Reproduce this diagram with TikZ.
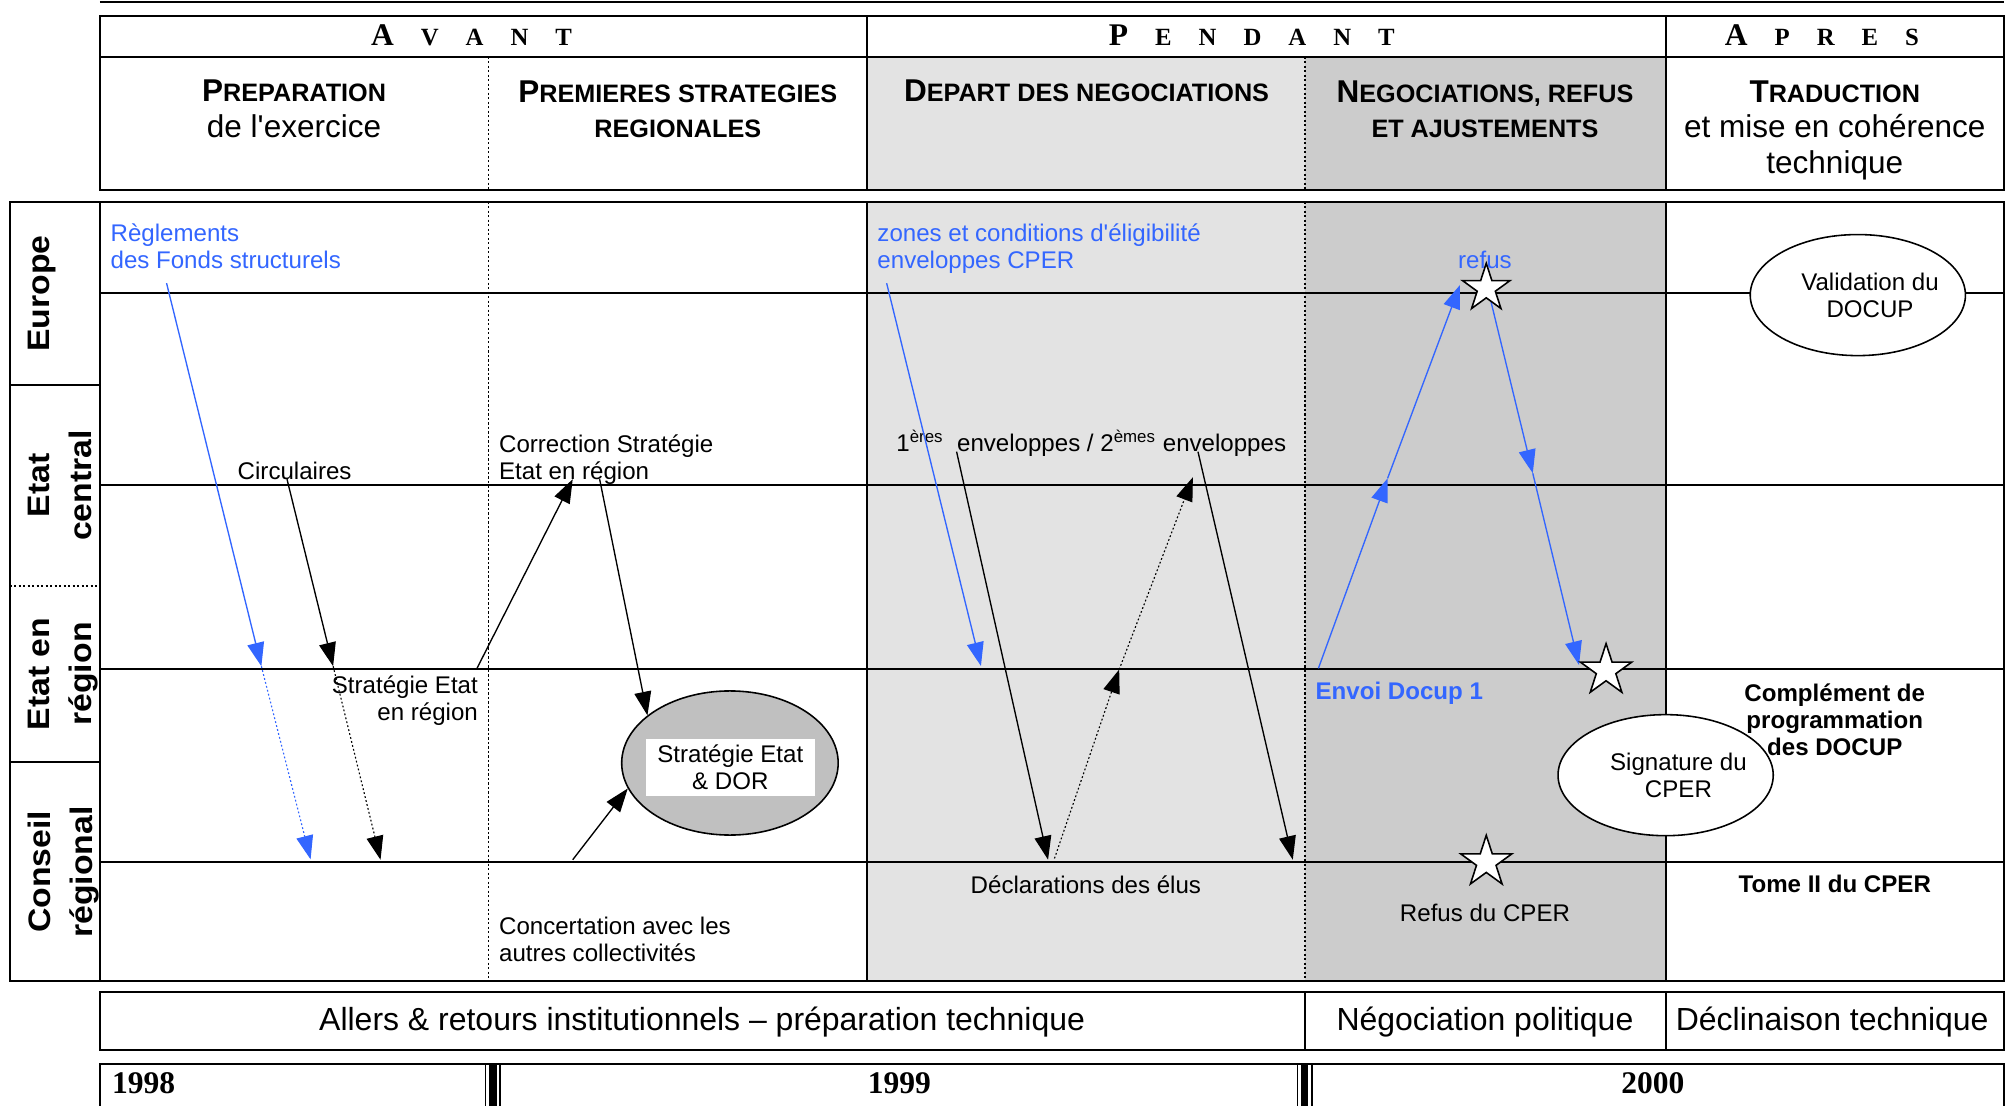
\documentclass[tikz,border=0pt]{standalone}
\usepackage{fontspec}
\setmainfont{Liberation Sans}
\newfontfamily\timesfont{Liberation Serif}
\usepackage{tikz}
\usetikzlibrary{shapes.geometric, arrows.meta, positioning, calc}
\newcommand{\corps}{\fontsize{10.7}{12}\selectfont}
\newcommand{\titre}{\fontsize{11.2}{15.8}\selectfont\bfseries}
\newcommand{\grand}{\fontsize{14}{15.8}\selectfont}
\newcommand{\initiale}[1]{{\grand #1}}
\newcommand{\espace}{\hspace{12pt}}
\tikzstyle{grille} = [line width=0.9pt]
\tikzstyle{pointille} = [line width=0.5pt, dash pattern=on 1pt off 1pt]
\tikzstyle{texte} = [inner sep=0pt, font=\corps]
\tikzstyle{texteb} = [texte, text=bleu]
\tikzstyle{entete} = [inner sep=0pt, anchor=base, align=center, font=\titre]
\tikzstyle{phasetxt} = [inner sep=0pt, anchor=base, font=\timesfont\bfseries\fontsize{11}{14}\selectfont]
\tikzstyle{basetxt} = [inner sep=0pt, anchor=base, font=\fontsize{14.2}{16}\selectfont]
\tikzstyle{annee} = [inner sep=0pt, anchor=base, font=\timesfont\bfseries\fontsize{14}{14}\selectfont]
\tikzstyle{acteur} = [inner sep=0pt, rotate=90, yscale=0.92, align=center, font=\fontsize{15}{20.2}\selectfont\bfseries]
\tikzstyle{bulle} = [ellipse, draw, line width=0.7pt, fill=white, inner sep=0pt, minimum width=3.36cm, minimum height=1.89cm]
\tikzstyle{etoile} = [star, star points=5, star point ratio=2.618, draw, fill=white, line width=0.7pt, inner sep=0pt, minimum size=0.84cm]
\tikzstyle{arrow} = [line width=0.6pt, -{Triangle[length=10.5pt,width=7.5pt]}]
\tikzstyle{arrowbleu} = [arrow, bleu]
\tikzstyle{tirets} = [line width=0.5pt, dash pattern=on 0.8pt off 1pt]
\usepackage{xcolor}
\definecolor{bleu}{HTML}{3366FF}
\definecolor{grisclair}{HTML}{E3E3E3}
\definecolor{grisfonce}{HTML}{CCCCCC}
\definecolor{grisbulle}{HTML}{C0C0C0}

\begin{document}
\begin{tikzpicture}[x=0.02cm, y=-0.02cm]
    \useasboundingbox (0,0) rectangle (1568,863);

    \fill [grisclair] (677,44.2) rectangle (1018.5,148.3);
    \fill [grisfonce] (1018.5,44.2) rectangle (1300,148.3);
    \fill [grisclair] (677,157.4) rectangle (1018.5,765.6);
    \fill [grisfonce] (1018.5,157.4) rectangle (1300,765.6);

    \draw [grille] (78,1.5) -- (1564,1.5);
    \draw [grille] (78,12.2) rectangle (1564,148.3);
    \draw [grille] (78,44.2) -- (1564,44.2);
    \draw [grille] (677,12.2) -- (677,148.3);
    \draw [grille] (1300,12.2) -- (1300,148.3);
    \draw [pointille] (381,44.2) -- (381,148.3);
    \draw [pointille] (1018.5,44.2) -- (1018.5,148.3);

    \draw [grille] (7.5,157.4) rectangle (1564,765.6);
    \draw [grille] (78,157.4) -- (78,765.6);
    \draw [grille] (7.5,300.5) -- (78,300.5);
    \draw [pointille] (7.5,457.4) -- (78,457.4);
    \draw [grille] (7.5,594.5) -- (78,594.5);
    \draw [grille] (78,229) -- (1564,229);
    \draw [grille] (78,378.5) -- (1564,378.5);
    \draw [grille] (78,522.4) -- (1564,522.4);
    \draw [grille] (78,673) -- (1564,673);
    \draw [pointille] (381,157.4) -- (381,765.6);
    \draw [grille] (677,157.4) -- (677,765.6);
    \draw [pointille] (1018.5,157.4) -- (1018.5,765.6);
    \draw [grille] (1300,157.4) -- (1300,765.6);

    \draw [grille] (78,774.5) rectangle (1564,819.5);
    \draw [grille] (1018.5,774.5) -- (1018.5,819.5);
    \draw [grille] (1300,774.5) -- (1300,819.5);
    \draw [grille] (78,870) -- (78,830.4) -- (1564,830.4) -- (1564,870);
    \draw [line width=0.6pt] (379,830.4) -- (379,870) (390.2,830.4) -- (390.2,870);
    \draw [line width=0.6pt] (1012.8,830.4) -- (1012.8,870) (1024,830.4) -- (1024,870);
    \draw [line width=3.3pt] (384.7,830.4) -- (384.7,870) (1018.3,830.4) -- (1018.3,870);

    \node (avant) [phasetxt] at (368,35.7) {{\fontsize{14}{14}\selectfont A}\espace V\espace A\espace N\espace T};
    \node (pendant) [phasetxt] at (977,35.7) {{\fontsize{14}{14}\selectfont P}\espace E\espace N\espace D\espace A\espace N\espace T};
    \node (apres) [phasetxt] at (1422,35.7) {{\fontsize{14}{14}\selectfont A}\espace P\espace R\espace E\espace S};

    \node (preparation) [entete] at (229.5,107.2) {\initiale{P}REPARATION\\{\grand\mdseries de l\textquotesingle exercice}};
    \node (premieres) [entete] at (529,107.4) {\initiale{P}REMIERES STRATEGIES\\REGIONALES};
    \node (depart) [entete] at (848,79.4) {\initiale{D}EPART DES NEGOCIATIONS};
    \node (negociations) [entete] at (1159,107.4) {\initiale{N}EGOCIATIONS, REFUS\\ET AJUSTEMENTS};
    \node (traduction) [entete] at (1432,135.3) {\initiale{T}RADUCTION\\{\grand\mdseries et mise en cohérence}\\{\grand\mdseries technique}};

    \node (europe) [acteur] at (33,229) {Europe};
    \node (etatcentral) [acteur] at (46.9,379) {Etat\\central};
    \node (etatregion) [acteur] at (49.4,526) {Etat en\\région};
    \node (conseil) [acteur] at (49.4,680.5) {Conseil\\régional};

    \node (reglements) [texteb, anchor=base west, align=left] at (86,209.4) {Règlements\\des Fonds structurels};
    \node (zones) [texteb, anchor=base west, align=left] at (684.5,209.4) {zones et conditions d\textquotesingle éligibilité\\enveloppes CPER};
    \node (refus) [texteb, anchor=base] at (1159,209.3) {refus};
    \node (circulaires) [texte, anchor=base west] at (185.2,374.1) {Circulaires};
    \node (correction) [texte, anchor=base west, align=left] at (389.2,374.1) {Correction Stratégie\\Etat en région};
    \node (stratregion) [texte, anchor=base east, align=right] at (373.3,562.5) {Stratégie Etat\\en région};
    \node (concertation) [texte, anchor=base west, align=left] at (389.2,750.5) {Concertation avec les\\autres collectivités};
    \node (enveloppes) [texte, anchor=base west] at (699.3,352.5) {1\textsuperscript{ères}\ \ enveloppes / 2\textsuperscript{èmes} enveloppes};
    \node (declarations) [texte, anchor=base] at (847.5,697.2) {Déclarations des élus};
    \node (envoi) [texteb, anchor=base west, font=\corps\bfseries] at (1026.5,545.8) {Envoi Docup 1};
    \node (refuscper) [texte, anchor=base] at (1159,719.3) {Refus du CPER};
    \node (tome) [texte, anchor=base, font=\corps\bfseries] at (1432,696.7) {Tome II du CPER};

    \node (validation) [bulle] at (1450,230.3) {};
    \node (validationtxt) [texte, align=center] at ($(validation)+(9.5,0)$) {Validation du\\DOCUP};
    \node (signature) [bulle] at (1300,605) {};
    \node (signaturetxt) [texte, align=center] at ($(signature)+(10,0)$) {Signature du\\CPER};
    \node (strat) [bulle, fill=grisbulle, minimum width=3.38cm, minimum height=2.25cm] at (569.7,595.5) {};
    \node (strattxt) [texte, fill=white, align=center, minimum width=2.64cm, minimum height=0.88cm] at (570,599) {Stratégie Etat\\\& DOR};
    \node (complement) [texte, anchor=base, align=center, font=\corps\bfseries] at (1432,589.3) {Complément de\\programmation\\des DOCUP};

    \coordinate (r1) at (130,221);
    \coordinate (r2) at (204,520);
    \coordinate (r3) at (242.4,670.7);
    \coordinate (c1) at (224,374);
    \coordinate (c2) at (260,520);
    \coordinate (c3) at (297,671);
    \coordinate (s1) at (372.3,521.6);
    \coordinate (s2) at (447,374);
    \coordinate (k1) at (468,374);
    \coordinate (t1) at (447,671);
    \coordinate (z1) at (692,221);
    \coordinate (z2) at (765.6,519.8);
    \coordinate (e1) at (746.6,352.5);
    \coordinate (e2) at (818,671);
    \coordinate (d1) at (823,670);
    \coordinate (d2) at (873.5,522.5);
    \coordinate (d3) at (931,372.5);
    \coordinate (e3) at (935,352.5);
    \coordinate (e4) at (1009,671);
    \coordinate (n1) at (1029,521.6);
    \coordinate (n2) at (1083,373.3);
    \coordinate (n3) at (1139.5,222.4);
    \coordinate (n4) at (1163.7,235.5);
    \coordinate (n5) at (1196.3,369.4);
    \coordinate (n6) at (1232.4,519);

    \draw [arrowbleu] (r1) -- (r2);
    \draw [arrowbleu, tirets] (r2) -- (r3);
    \draw [arrow] (c1) -- (c2);
    \draw [arrow, tirets] (c2) -- (c3);
    \draw [arrow] (s1) -- (s2);
    \draw [arrow] (k1) -- (strat.150);
    \draw [arrow] (t1) -- (strat.194);
    \draw [arrowbleu] (z1) -- (z2);
    \draw [arrow] (e1) -- (e2);
    \draw [arrow, tirets] (d1) -- (d2);
    \draw [arrow, tirets] (d2) -- (d3);
    \draw [arrow] (e3) -- (e4);
    \draw [arrowbleu] (n1) -- (n2);
    \draw [arrowbleu] (n2) -- (n3);
    \draw [arrowbleu] (n4) -- (n5);
    \draw [arrowbleu] (n5) -- (n6);

    \node (etoileA) [etoile, minimum size=0.78cm] at (1160,225) {};
    \node (etoileB) [etoile] at (1253.5,523.3) {};
    \node (etoileC) [etoile] at (1160,672.9) {};

    \node (allers) [basetxt] at (548,804.4) {Allers \& retours institutionnels – préparation technique};
    \node (politique) [basetxt] at (1159,804.4) {Négociation politique};
    \node (declinaison) [basetxt] at (1430,804.4) {Déclinaison technique};

    \node (an1998) [annee, anchor=base west] at (87.1,853.3) {1998};
    \node (an1999) [annee] at (702,853.3) {1999};
    \node (an2000) [annee] at (1290,853.3) {2000};
\end{tikzpicture}
\end{document}
